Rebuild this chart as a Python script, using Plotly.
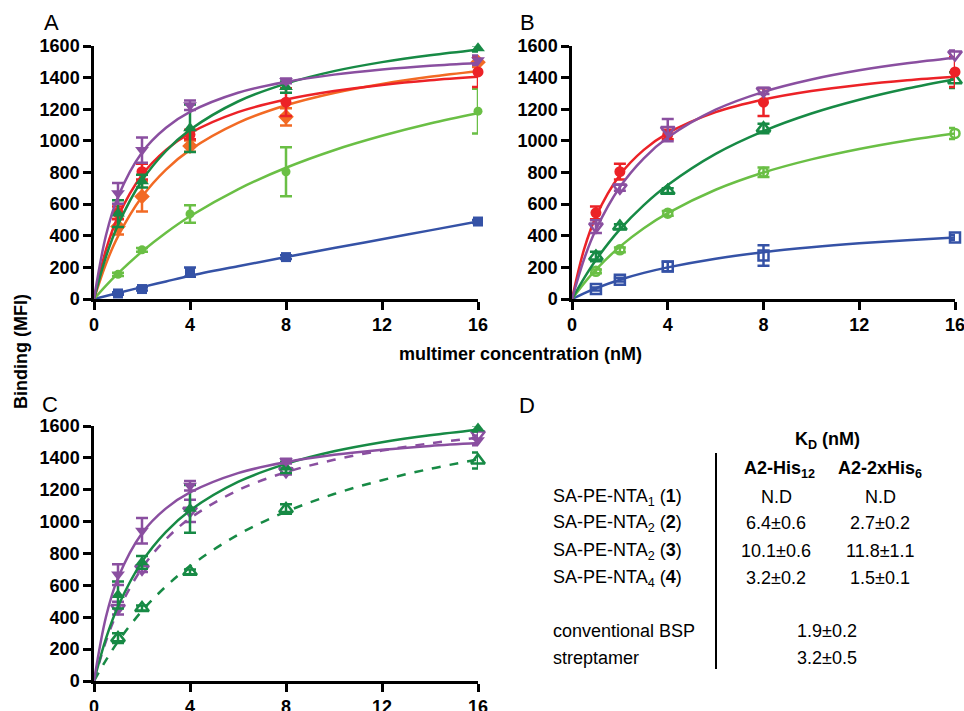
import plotly.graph_objects as go

# ---------------- data ----------------
conc = [1, 2, 4, 8, 16]
fit_x = [0, 0.5, 1, 2, 3, 4, 6, 8, 10, 12, 14, 16]

# Panel A (A2-His12, filled markers)
blue_A = [35, 63, 170, 265, 490]
blue_A_err = [8, 10, 30, 12, 10]
lgreen_A = [156, 311, 538, 805, 1188]
lgreen_A_err = [10, 12, 55, 155, 142]
orange_A = [458, 648, 967, 1152, 1497]
orange_A_err = [50, 95, 35, 55, 30]
red_vals = [545, 805, 1040, 1245, 1436]
red_err = [40, 50, 30, 88, 95]
dgreen_A = [540, 745, 1080, 1340, 1585]
dgreen_A_err = [85, 40, 150, 35, 20]
purple_A = [668, 942, 1225, 1379, 1510]
purple_A_err = [65, 80, 30, 15, 30]

# Panel B (A2-2xHis6, open markers)
blue_B = [63, 122, 206, 275, 389]
blue_B_err = [10, 12, 30, 65, 15]
lgreen_B = [175, 311, 542, 801, 1047]
lgreen_B_err = [12, 15, 15, 30, 35]
dgreen_B = [269, 458, 685, 1079, 1384]
dgreen_B_err = [30, 15, 15, 30, 50]
purple_B = [458, 704, 1068, 1316, 1547]
purple_B_err = [40, 20, 70, 20, 25]

# fitted curves
blue_A_fit = [0, 19, 38, 75, 111, 147, 207, 265, 322, 378, 434, 490]
lgreen_A_fit = [0, 85, 162, 300, 419, 523, 694, 830, 941, 1032, 1110, 1175]
orange_A_fit = [0, 223, 396, 646, 818, 943, 1114, 1225, 1303, 1360, 1405, 1440]
red_fit = [0, 312, 521, 784, 943, 1049, 1182, 1262, 1316, 1354, 1383, 1405]
dgreen_A_fit = [0, 268, 468, 749, 936, 1070, 1249, 1362, 1441, 1498, 1542, 1577]
purple_A_fit = [0, 403, 647, 927, 1083, 1183, 1304, 1373, 1419, 1451, 1475, 1493]
blue_B_fit = [0, 36, 68, 122, 165, 200, 255, 296, 327, 352, 372, 389]
lgreen_B_fit = [0, 99, 186, 331, 448, 543, 691, 800, 883, 949, 1003, 1047]
dgreen_B_fit = [0, 131, 247, 440, 594, 721, 918, 1062, 1173, 1260, 1331, 1390]
purple_B_fit = [0, 250, 439, 708, 890, 1021, 1197, 1310, 1388, 1446, 1491, 1526]

x_ticks = [0, 4, 8, 12, 16]
y_ticks = [0, 200, 400, 600, 800, 1000, 1200, 1400, 1600]

# table
row_labels = ["SA-PE-NTA<sub>1</sub> (<b>1</b>)", "SA-PE-NTA<sub>2</sub> (<b>2</b>)",
              "SA-PE-NTA<sub>2</sub> (<b>3</b>)", "SA-PE-NTA<sub>4</sub> (<b>4</b>)"]
col_his12 = ["N.D", "6.4±0.6", "10.1±0.6", "3.2±0.2"]
col_2xhis6 = ["N.D", "2.7±0.2", "11.8±1.1", "1.5±0.1"]
extra_labels = ["conventional BSP", "streptamer"]
extra_vals = ["1.9±0.2", "3.2±0.5"]

# ---------------- style ----------------
BLUE = "#3552A6"
LGREEN = "#6ABF45"
ORANGE = "#F26A24"
RED = "#EC2227"
DGREEN = "#178A45"
PURPLE = "#8A4FA0"
FONT = "Liberation Sans, Arial, sans-serif"

W, H = 964, 711
fig = go.Figure()


def add_series(xa, ya, y, err, fit, color, symbol, size, dash="solid", open_=False):
    fig.add_trace(go.Scatter(
        x=fit_x, y=fit, mode="lines", line=dict(color=color, width=2.5, shape="spline", dash=dash),
        xaxis=xa, yaxis=ya, hoverinfo="skip", cliponaxis=False))
    marker = dict(symbol=symbol, size=size, color=color)
    if open_:
        marker["line"] = dict(color=color, width=2.5)
    else:
        marker["line"] = dict(width=0)
    fig.add_trace(go.Scatter(
        x=conc, y=y, mode="markers", marker=marker,
        error_y=dict(type="data", array=err, visible=True, color=color, thickness=2.5, width=6),
        xaxis=xa, yaxis=ya, cliponaxis=False))


# Panel A
add_series("x", "y", blue_A, blue_A_err, blue_A_fit, BLUE, "square", 10)
add_series("x", "y", lgreen_A, lgreen_A_err, lgreen_A_fit, LGREEN, "circle", 9)
add_series("x", "y", orange_A, orange_A_err, orange_A_fit, ORANGE, "diamond", 12)
add_series("x", "y", red_vals, red_err, red_fit, RED, "circle", 11)
add_series("x", "y", dgreen_A, dgreen_A_err, dgreen_A_fit, DGREEN, "triangle-up", 12)
add_series("x", "y", purple_A, purple_A_err, purple_A_fit, PURPLE, "triangle-down", 12)

# Panel B
add_series("x2", "y2", blue_B, blue_B_err, blue_B_fit, BLUE, "square-open", 10, open_=True)
add_series("x2", "y2", lgreen_B, lgreen_B_err, lgreen_B_fit, LGREEN, "circle-open", 9, open_=True)
add_series("x2", "y2", dgreen_B, dgreen_B_err, dgreen_B_fit, DGREEN, "triangle-up-open", 12, open_=True)
add_series("x2", "y2", red_vals, red_err, red_fit, RED, "circle", 11)
add_series("x2", "y2", purple_B, purple_B_err, purple_B_fit, PURPLE, "triangle-down-open", 12, open_=True)

# Panel C
add_series("x3", "y3", dgreen_B, dgreen_B_err, dgreen_B_fit, DGREEN, "triangle-up-open", 12, dash="dash", open_=True)
add_series("x3", "y3", purple_B, purple_B_err, purple_B_fit, PURPLE, "triangle-down-open", 12, dash="dash", open_=True)
add_series("x3", "y3", dgreen_A, dgreen_A_err, dgreen_A_fit, DGREEN, "triangle-up", 12)
add_series("x3", "y3", purple_A, purple_A_err, purple_A_fit, PURPLE, "triangle-down", 12)


def px_x(p):
    return p / W


def px_y(p):
    return 1 - p / H


tickfont = dict(family=FONT, size=18, color="black", weight="bold")
xcommon = dict(range=[0, 16], tickvals=x_ticks, ticks="outside", ticklen=8, tickwidth=2.5,
               tickcolor="black", showline=True, linewidth=2.5, linecolor="black",
               showgrid=False, zeroline=False, tickfont=tickfont, fixedrange=True,
               automargin=False, ticklabeloverflow="allow")
ycommon = dict(range=[0, 1600], tickvals=y_ticks, ticks="outside", ticklen=8, tickwidth=2.5,
               tickcolor="black", showline=True, linewidth=2.5, linecolor="black",
               showgrid=False, zeroline=False, tickfont=tickfont, fixedrange=True,
               automargin=False, ticklabeloverflow="allow")

domA_x = [px_x(94), px_x(478)]
domB_x = [px_x(572), px_x(955)]
domAB_y = [px_y(299), px_y(46)]
domC_y = [px_y(681), px_y(426)]

fig.update_layout(
    width=W, height=H, margin=dict(l=0, r=0, t=0, b=0, autoexpand=False),
    paper_bgcolor="white", plot_bgcolor="white", showlegend=False,
    xaxis=dict(domain=domA_x, anchor="y", **xcommon),
    yaxis=dict(domain=domAB_y, anchor="x", **ycommon),
    xaxis2=dict(domain=domB_x, anchor="y2", **xcommon),
    yaxis2=dict(domain=domAB_y, anchor="x2", **ycommon),
    xaxis3=dict(domain=domA_x, anchor="y3", **xcommon),
    yaxis3=dict(domain=domC_y, anchor="x3", **ycommon),
)

ann = []


def text(x, y, s, size=18, bold=False, xanchor="center", angle=0):
    ann.append(dict(x=px_x(x), y=px_y(y), xref="paper", yref="paper", text=s, showarrow=False,
                    xanchor=xanchor, yanchor="middle", textangle=angle,
                    font=dict(family=FONT, size=size, color="black", weight="bold" if bold else "normal")))


# panel letters
text(51, 23, "A", size=22)
text(527, 23, "B", size=22)
text(50, 404, "C", size=22)
text(527, 405, "D", size=22)

# axis titles
text(520, 354, "multimer concentration (nM)", size=18, bold=True)
text(21, 352, "Binding (MFI)", size=18, bold=True, angle=-90)

# table
text(827, 440, "K<sub>D</sub> (nM)", size=18, bold=True)
text(779, 470, "A2-His<sub>12</sub>", size=18, bold=True)
text(880, 470, "A2-2xHis<sub>6</sub>", size=18, bold=True)
row_y = [497, 523, 551, 578]
for lab, v1, v2, yy in zip(row_labels, col_his12, col_2xhis6, row_y):
    text(551, yy, lab, xanchor="left")
    text(776, yy, v1)
    text(880, yy, v2)
for lab, v, yy in zip(extra_labels, extra_vals, [631, 658]):
    text(551, yy, lab, xanchor="left")
    text(827, yy, v)

fig.update_layout(annotations=ann)
fig.add_shape(type="line", xref="paper", yref="paper", x0=px_x(716), x1=px_x(716),
              y0=px_y(453), y1=px_y(669), line=dict(color="black", width=2))

fig.write_html("out.html", config={"displayModeBar": False},
               post_script="document.body.style.margin='0px';document.body.style.padding='0px';"
                           "document.body.style.overflow='hidden';")
